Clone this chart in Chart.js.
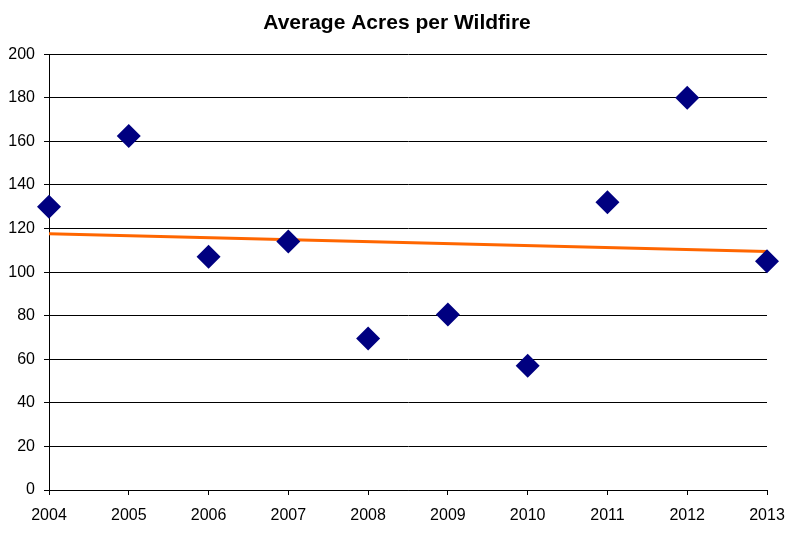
<!DOCTYPE html>
<html>
<head>
<meta charset="utf-8">
<script src="https://cdn.jsdelivr.net/npm/chart.js@4/dist/chart.umd.min.js"></script>
<style>
  html, body { margin: 0; padding: 0; background: #fff; }
  #wrap { width: 794px; height: 534px; }
</style>
</head>
<body>
<div id="wrap"><canvas id="fireChart"></canvas></div>
<script>
const years = [2004, 2005, 2006, 2007, 2008, 2009, 2010, 2011, 2012, 2013];
const avgAcres = [130, 162.5, 107, 114, 69.5, 80.5, 57, 132, 180, 105];
// trendline as drawn: start and end values
const trendYears = [2004, 2013];
const trendValues = [117.6, 109.4];

Chart.defaults.font.family = '"Liberation Sans", Arial, sans-serif';
Chart.defaults.color = '#000';

const ctx = document.getElementById('fireChart').getContext('2d');

const chart = new Chart(ctx, {
  type: 'scatter',
  data: {
    datasets: [{
      label: 'Average Acres',
      data: years.map((y, i) => ({ x: y, y: avgAcres[i] })),
      pointStyle: 'rectRot',
      pointRadius: 12,
      pointHoverRadius: 12,
      backgroundColor: '#000080',
      borderColor: '#000080',
      borderWidth: 0,
      showLine: false,
      clip: false
    }, {
      label: 'Trend',
      type: 'line',
      data: trendYears.map((y, i) => ({ x: y, y: trendValues[i] })),
      borderColor: '#FF6600',
      borderWidth: 3,
      pointRadius: 0,
      fill: false
    }]
  },
  options: {
    responsive: true,
    maintainAspectRatio: false,
    animation: false,
    layout: { padding: 0 },
    plugins: {
      legend: { display: false },
      tooltip: { enabled: false },
      title: {
        display: true,
        text: 'Average Acres per Wildfire',
        font: { size: 21, weight: 'bold' },
        color: '#000',
        padding: { top: 11, bottom: 18 }
      }
    },
    scales: {
      x: {
        type: 'linear',
        min: 2004,
        max: 2013,
        afterFit: (s) => {
          s.height = 44;
          // let the end labels hang over, the plot edge is set by the spacer axis
          s.paddingLeft = 0;
          s.paddingRight = 0;
        },
        grid: { color: 'rgba(0,0,0,0)', tickColor: '#000', tickLength: 5, drawOnChartArea: false },
        border: { display: true, color: '#000', width: 1 },
        ticks: {
          stepSize: 1,
          padding: 11,
          maxRotation: 0,
          font: { size: 16 },
          color: '#000',
          callback: (v) => String(v)
        }
      },
      y: {
        min: 0,
        max: 200,
        afterFit: (s) => { s.width = 49; },
        grid: { color: '#000', lineWidth: 1, tickLength: 5 },
        border: { display: true, color: '#000', width: 1 },
        ticks: { stepSize: 20, padding: 9, font: { size: 16 }, color: '#000' }
      },
      // empty spacer on the right so the title stays centred on the page
      yRight: {
        position: 'right',
        min: 0,
        max: 200,
        afterFit: (s) => { s.width = 27; },
        grid: { display: false },
        border: { display: false },
        ticks: { display: false }
      }
    }
  }
});
</script>
</body>
</html>
